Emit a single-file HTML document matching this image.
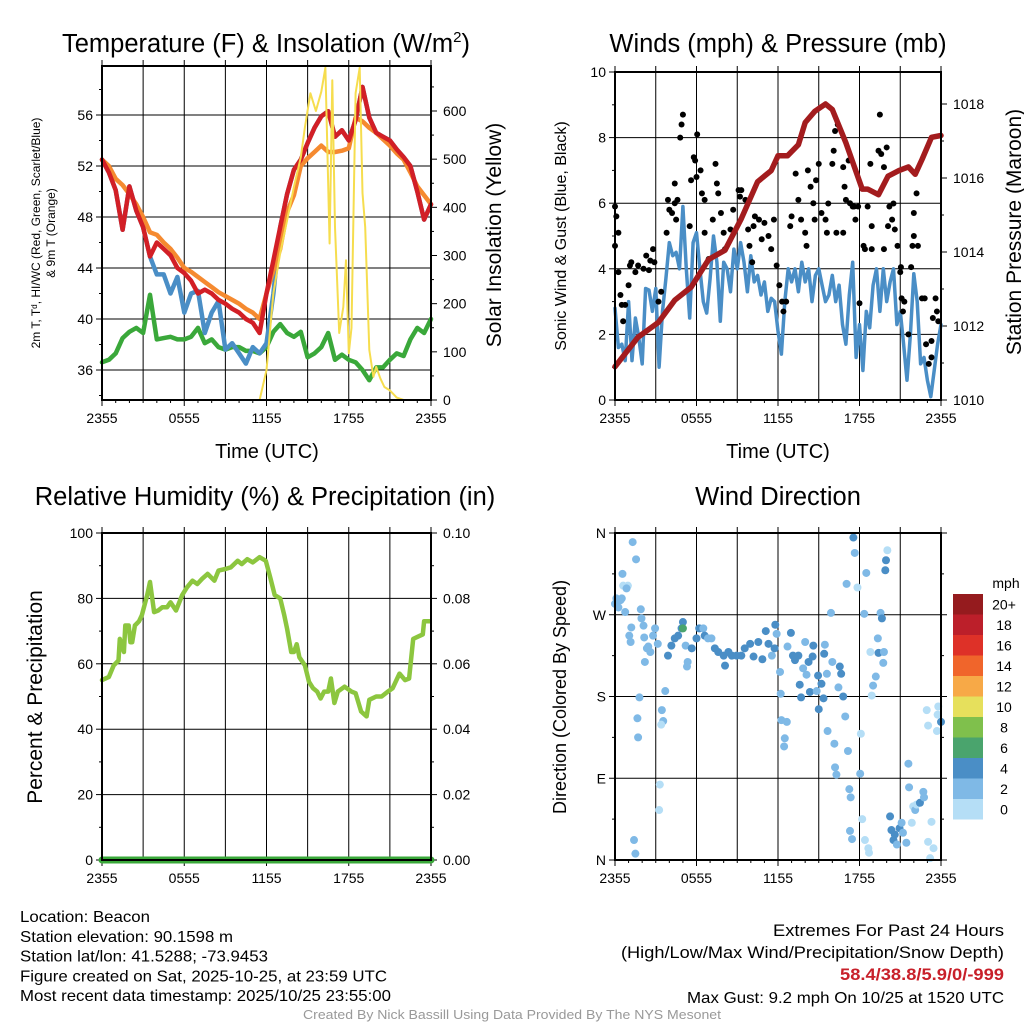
<!DOCTYPE html>
<html><head><meta charset="utf-8"><style>
body{margin:0;background:#fff;}
svg{font-family:"Liberation Sans",sans-serif;}
</style></head><body>
<svg id="s" width="1024" height="1024" viewBox="0 0 1024 1024" xmlns="http://www.w3.org/2000/svg"></svg>
<script>
// ---------- data ----------
const tTime=[0,0.5,1,1.5,2,2.5,3,3.5,4,4.5,5,5.5,6,6.5,7,7.5,8,8.5,9,9.5,10,10.5,11,11.5,12,12.5,13,13.5,14,14.5,15,15.5,16,16.5,17,17.5,18,18.5,19,19.5,20,20.5,21,21.5,22,22.5,23,23.5,24];
const tRed=[52.5,51.5,50.1,47,50.4,48.5,47.2,44.9,46,45.5,45,44,43.6,43,42,42.3,42,41.5,41.2,40.8,40.5,40,39.7,38.9,42,44.6,47.2,49.8,51.7,52.5,53.8,55,55.9,56.3,54.3,54.8,54,55.6,58.2,55.8,54.6,54.3,54,53.3,52.7,52,50,47.8,49];
const tOrange=[52.5,52,51,50.5,49.8,49,48,46.8,46.6,46,45.5,44.8,44,43.7,43.3,42.9,42.5,42.1,41.8,41.5,41.2,40.8,40.5,40,42,43.8,45.5,48.4,49.7,52,52.6,53.1,53.6,53.1,53.1,53.2,53.4,55.8,55.5,55,54.6,54.1,53.6,53,52.5,51.5,50.4,49.7,49];
const tBlue=[52.5,51.5,50.1,47,50.4,48.5,47.2,44.9,43.5,43.5,42,43.3,40.5,42,42.2,38.9,40.5,41.4,37.6,38.1,37.3,36.5,37.8,37.3,38.1,42,47.2,49.8,51.7,52.5,53.8,55,55.9,56.3,54.3,54.8,54,55.6,58.2,55.8,54.6,54.3,54,53.3,52.7,52,50,47.8,49];
const tGreen=[36.6,36.8,37.3,38.5,39,39.3,38.9,41.9,38.4,38.5,38.6,38.4,38.4,38.6,39.3,38.1,38.4,37.8,37.6,37.8,37.8,37.5,37.5,37.3,37.8,39,39.6,38.9,38.6,39,37,37.3,37.8,38.9,36.8,37.2,36.8,36.6,36,35.2,36.2,36.2,36.8,37.3,37.1,38.4,39.3,38.9,40];
const solTime=[0,11.5,12,12.5,13,13.5,14,14.5,14.8,15.2,15.6,16,16.3,16.6,16.8,17,17.3,17.6,17.8,18,18.2,18.5,18.8,19,19.2,19.5,19.8,20,20.3,20.6,21,21.5,22,24];
const solVal=[0,0,62,222,305,373,442,504,566,637,600,640,690,325,664,359,139,193,290,97,150,637,690,430,359,104,48,69,45,27,20,5,0,0];

const wTime=[0,0.25,0.5,0.75,1,1.25,1.5,1.75,2,2.25,2.5,2.75,3,3.25,3.5,3.75,4,4.25,4.5,4.75,5,5.25,5.5,5.75,6,6.25,6.5,6.75,7,7.25,7.5,7.75,8,8.25,8.5,8.75,9,9.25,9.5,9.75,10,10.25,10.5,10.75,11,11.25,11.5,11.75,12,12.25,12.5,12.75,13,13.25,13.5,13.75,14,14.25,14.5,14.75,15,15.25,15.5,15.75,16,16.25,16.5,16.75,17,17.25,17.5,17.75,18,18.25,18.5,18.75,19,19.25,19.5,19.75,20,20.25,20.5,20.75,21,21.25,21.5,21.75,22,22.25,22.5,22.75,23,23.25,23.5,23.75,24];
const wSpeed=[2.8,1.6,1.7,1.2,3.0,1.2,2.5,1.9,1.1,3.4,3.35,2.7,3.4,1.0,2.7,3.7,4.8,4.4,4.5,4.0,5.9,4.0,2.5,4.8,5.1,4.0,3.0,2.65,3.7,5.0,4.2,2.4,4.2,4.0,3.3,4.6,4.0,4.8,4.2,3.3,4.4,3.6,3.8,3.2,3.6,2.7,3.1,3.0,2.1,1.4,3.0,4.0,3.6,4.0,3.3,4.2,3.6,4.0,3.0,3.8,4.0,3.5,3.0,3.2,3.8,3.0,3.5,2.3,1.7,3.2,4.2,1.3,2.3,0.9,2.7,2.2,3.5,4.0,2.7,4.0,3.0,3.6,4.0,2.3,2.7,1.7,0.6,2.0,3.85,3.0,1.1,1.3,0.6,0.1,0.9,1.7,2.3];
const gTime=[0,0.1,0.25,0,0.25,0.4,0.5,0.75,0.6,1,1.1,1.2,1.5,1.7,2.1,2.3,2.6,2.8,2.9,2.5,3.2,3.4,3.8,3.9,4,4.2,4.4,4.4,4.5,4.6,4.8,4.9,5,5.5,5.6,5.8,5.9,6,6.05,6.3,6.4,6.6,6.6,6.9,7.2,7.4,7.5,7.6,7.8,8,8.1,8.5,8.7,9.1,9.2,9.3,9.6,9.8,9.9,10.1,10.2,10.3,10.6,10.8,11,11.3,11.5,11.7,11.9,12.1,12.3,12.4,12.6,12.9,13,13.3,13.5,13.7,14,14.1,14.2,14.4,14.6,14.7,14.8,15,15.2,15.5,15.6,15.7,16,16.1,16.2,16.4,16.3,16.8,16.8,16.9,17,17.2,17.3,17.5,17.6,17.7,17.9,18,18.3,18.4,18.6,18.8,18.9,18.9,19.4,19.5,19.6,19.8,19.8,20,20.1,20.2,20.4,20.5,20.6,20.8,21,21.05,21.1,21.2,21.3,21.6,21.8,21.9,22,22,22.2,22.3,22.6,22.8,22.9,23.3,23.4,23.6,23.7,23.8,23.3,23.1];
const gSpeed=[5.9,5.6,5.1,4.7,3.9,3.2,2.9,2.9,2.4,3.5,4.1,4.2,3.9,4.1,4.0,4.4,4.25,4.6,4.2,3.96,3.0,3.3,5.1,6.1,5.8,5.7,6.0,6.6,5.5,6.1,8.0,8.4,8.7,5.3,6.7,7.4,7.3,6.8,8.1,7.0,6.3,6.1,5.1,4.3,5.5,7.2,6.6,6.3,5.7,5.1,4.6,5.2,5.8,6.4,6.2,6.4,6.1,5.2,4.7,4.2,5.3,5.6,5.5,4.9,5.4,5.0,4.6,5.5,4.1,3.5,3.0,2.7,3.0,5.3,5.6,6.9,6.1,5.5,5.1,4.7,7.0,6.5,6.0,5.5,6.7,7.2,5.7,5.5,5.1,5.99,7.2,7.6,8.2,8.4,5.1,5.1,7.1,6.5,6.1,7.3,6.0,5.9,5.9,5.5,5.9,2.95,4.7,4.6,5.9,7.2,4.6,5.3,7.6,8.7,7.5,7.1,4.6,7.7,5.3,5.9,5.5,5.99,5.2,4.7,3.9,4.05,3.1,2.7,3.0,2.0,4.05,4.7,5.0,5.7,6.3,4.7,3.1,3.1,1.7,1.8,2.5,3.1,2.7,2.4,1.3,1.1];
const pTime=[0,1.7,3.2,4.4,5.6,6.9,8.1,9.3,10.5,11.5,12,12.7,13.5,14,14.7,15.5,16,17,18.2,18.6,19.4,20.1,20.9,21.6,22.1,22.6,23.3,24];
const pVal=[1010.9,1011.7,1012.1,1012.7,1013.05,1013.8,1014.05,1014.9,1015.9,1016.2,1016.6,1016.6,1016.9,1017.5,1017.8,1018.0,1017.85,1016.95,1015.7,1015.7,1015.55,1016.05,1016.2,1016.3,1016.1,1016.5,1017.1,1017.15];

const rhTime=[0,0.5,0.85,1.2,1.3,1.6,1.7,1.95,2.07,2.2,2.4,2.7,2.9,3.3,3.5,3.8,4.1,4.4,4.75,5,5.4,5.85,6.2,6.6,6.95,7.3,7.7,8.2,8.5,9,9.4,9.9,10.2,10.6,11,11.5,11.95,12.3,12.6,13,13.3,13.5,13.8,14,14.2,14.4,14.8,15.1,15.4,15.7,15.95,16.2,16.5,16.7,16.95,17.2,17.7,18.2,18.5,18.9,19.3,19.5,20,20.4,20.85,21.2,21.7,22.1,22.4,22.7,23.2,23.4,23.5,23.9];
const rhVal=[55,56,59.5,61,67.6,63.6,71.7,71.7,66.6,66.6,71.7,73,74.8,81,85,75.8,76.3,77.3,77.3,78.8,76.3,81,83.4,85.4,84.4,86,87.5,85.4,88.5,89,89.5,91.5,90.5,92,91,92.6,91.5,86,81,80,74.8,70.7,63.6,63.6,66,62,59.5,54.5,52.5,51.5,49.4,51.5,51.5,55.5,48,51.5,53,51.5,51,45.4,43.9,49,50,50,51.5,52.5,57,55,55.5,67.6,68.6,69,73,73];
const prTime=[0,24];
const prVal=[0,0];

const dTime=[0,0.1,0.4,0.25,0.5,0.55,0.6,0.95,0.85,0.75,1.3,1.55,1.2,1.05,1.15,1.9,1.95,2.1,2.15,2.35,2.45,2.6,2.2,2.8,2.95,3.15,3.7,3.45,3.55,3.4,1.8,1.65,1.7,3.3,3.25,1.4,1.5,3.9,4.15,4.4,4.65,4.9,5.0,5.0,5.2,5.35,5.3,5.65,6.0,6.2,6.5,6.6,6.85,7.1,7.35,7.6,8.0,8.1,8.35,8.6,8.95,9.3,9.55,9.95,10.2,10.55,10.85,11.1,11.3,11.55,11.75,11.8,11.9,12.15,12.2,12.25,12.65,12.5,12.45,12.7,12.95,13.1,13.25,13.5,13.6,13.7,13.85,14.0,14.1,14.35,14.25,14.6,14.55,14.85,14.95,15.0,15.2,15.35,15.4,15.45,15.6,15.65,15.9,16.0,16.15,16.2,16.3,16.45,16.55,16.65,16.8,16.95,17.15,17.25,17.35,17.3,17.45,17.55,17.65,17.05,17.85,18.05,18.1,18.2,18.35,18.4,18.5,18.65,18.7,18.8,18.9,19.0,19.2,19.35,19.4,19.55,19.65,19.8,19.75,19.9,19.95,20.05,20.25,20.35,20.5,20.75,20.6,20.95,21.1,21.2,21.45,21.6,21.65,21.85,21.95,22.1,22.2,22.45,22.7,22.75,23.05,23.3,23.45,23.2,22.95,23.05,23.7,23.8,23.75,24];
const dDir=[282,288,286,278,288,315,302,302,299,273,350,331,256,247,240,276,266,258,245,233,235,229,218,247,255,238,186,165,153,149,179,156,135,83,55,22,7,225,236,244,247,255,262,255,236,218,213,233,244,255,255,247,244,244,233,229,225,214,229,225,225,225,233,238,224,240,221,252,238,225,233,259,249,207,183,154,152,134,125,235,250,225,220,225,193,179,211,240,204,185,218,236,224,186,203,166,194,178,227,237,205,142,272,218,128,102,94,190,213,205,180,158,120,78,69,32,23,355,338,304,300,95,139,45,271,22,316,13,8,229,181,192,202,244,228,272,266,229,217,319,330,341,48,33,22,17,28,35,41,30,19,106,80,41,59,55,61,63,75,69,20,42,13,2,165,148,142,169,160,152];
const dSpd=[3,3,3,3,3,3,1,1,3,3,3,3,3,3,3,3,3,3,3,3,3,3,3,3,3,3,3,3,3,1,3,3,3,1,1,3,3,5,5,5,5,5,5,7,3,3,3,5,5,5,3,5,3,3,5,5,5,5,5,5,5,5,5,5,5,5,5,5,5,3,5,5,3,3,3,3,3,3,3,3,5,5,5,5,5,5,3,3,3,5,5,5,5,3,5,5,5,5,5,3,3,3,3,3,3,3,3,3,5,5,5,3,3,3,3,3,3,5,3,3,1,3,1,1,3,1,3,1,1,1,1,3,3,3,5,3,5,3,3,5,5,1,5,5,5,3,5,5,3,3,3,3,3,1,1,3,1,5,3,3,1,1,1,1,1,1,1,1,1,5,5,5];
const cbLabels=["20+","18","16","14","12","10","8","6","4","2","0"];
const cbColors=["#951b1e","#bc1f2a","#de3128","#f0652b","#f7a947","#e6e05c","#7fc04c","#4aa46d","#4a8ec6","#7fb9e6","#b5def6"];

// ---------- helpers ----------
const S=document.getElementById('s');const NS="http://www.w3.org/2000/svg";
function mk(t,a,p){const e=document.createElementNS(NS,t);for(const k in a)e.setAttribute(k,a[k]);(p||S).appendChild(e);return e;}
function txt(x,y,s,size,anchor,extra){const e=mk('text',Object.assign({x:x,y:y,'font-size':size,'text-anchor':anchor||'middle',fill:'#000'},extra||{}));e.textContent=s;return e;}
function lin(d0,d1,r0,r1){return v=>r0+(v-d0)/(d1-d0)*(r1-r0);}
function path(xs,ys,fx,fy,color,w,name){let d='';for(let i=0;i<xs.length;i++)d+=(i?'L':'M')+fx(xs[i]).toFixed(1)+' '+fy(ys[i]).toFixed(1);const p=mk('path',{d:d,fill:'none',stroke:color,'stroke-width':w,'stroke-linejoin':'round','stroke-linecap':'round'});

return p;}
function panel(x0,x1,y0,y1,fx,name){
  const g=mk('g',{});
  
  
  for(let h=3;h<24;h+=3)mk('line',{x1:fx(h),x2:fx(h),y1:y0,y2:y1,stroke:'#000','stroke-width':1},g);
  for(let h=0;h<=24;h+=3)mk('line',{x1:fx(h),x2:fx(h),y1:y0-6,y2:y0,stroke:'#000'},g);
  const xl=["2355","0555","1155","1755","2355"];
  for(let i=0;i<5;i++){txt(fx(i*6),y1+23,xl[i],14);mk('line',{x1:fx(i*6),x2:fx(i*6),y1:y1,y2:y1+6,stroke:'#000'},g);}
  for(let h=1;h<24;h++)if(h%6)mk('line',{x1:fx(h),x2:fx(h),y1:y1,y2:y1+3,stroke:'#000'},g);
  return g;}
function frame(x0,x1,y0,y1){const r=mk('rect',{x:x0,y:y0,width:x1-x0,height:y1-y0,fill:'none',stroke:'#000','stroke-width':2});

}
function vlabel(x,y,s,size,name){const e=mk('text',{transform:'translate('+x+','+y+') rotate(-90)','font-size':size,'text-anchor':'middle'});e.textContent=s;

return e;}

// ---------- panel 1 temperature ----------
{const x0=102,x1=431,y0=66,y1=400;
const fx=lin(0,24,x0,x1),fy=lin(36,56,370,115),fs=lin(0,600,400,111);
panel(x0,x1,y0,y1,fx,'temperature-panel');
for(let v=36;v<=56;v+=4){mk('line',{x1:x0,x2:x1,y1:fy(v),y2:fy(v),stroke:'#000'});txt(x0-9,fy(v)+5,String(v),14,'end');mk('line',{x1:x0-6,x2:x0,y1:fy(v),y2:fy(v),stroke:'#000'});}
for(let v=34;v<=58;v+=2)if(v%4)mk('line',{x1:x0-3,x2:x0,y1:fy(v),y2:fy(v),stroke:'#000'});
for(let v=0;v<=600;v+=100){txt(x1+12,fs(v)+5,String(v),14,'start');mk('line',{x1:x1,x2:x1+6,y1:fs(v),y2:fs(v),stroke:'#000'});}
for(let v=50;v<=650;v+=100)mk('line',{x1:x1,x2:x1+3,y1:fs(v),y2:fs(v),stroke:'#000'});
path(tTime,tGreen,fx,fy,'#3aa83a',4.5,'dewpoint-line');
path(tTime,tBlue,fx,fy,'#4a8ec6',4.5,'windchill-line');
path(tTime,tOrange,fx,fy,'#f58a30',4.5,'temp-9m-line');
path(tTime,tRed,fx,fy,'#d21f26',4.5,'temp-2m-line');
path(solTime,solVal,fx,fs,'#f6dd4e',2,'solar-insolation-line');
frame(x0,x1,y0,y1);
const t=txt(62,52,'Temperature (F) & Insolation (W/m',25.5,'start');const ts=mk('tspan',{'font-size':15,dy:-10});ts.textContent='2';t.appendChild(ts);const t2=mk('tspan',{dy:10});t2.textContent=')';t.appendChild(t2);

txt(267,458,'Time (UTC)',20);
vlabel(40,233,'2m T, T\u1d48, HI/WC (Red, Green, Scarlet/Blue)',12,'temperature-y-title');
vlabel(55,233,'& 9m T (Orange)',12,'temperature-y-title-2');
vlabel(501,235,'Solar Insolation (Yellow)',21,'solar-y-title');
}
// ---------- panel 2 winds ----------
{const x0=615,x1=941,y0=72,y1=400;
const fx=lin(0,24,x0,x1),fy=lin(0,10,400,72),fp=lin(1010,1018,400,104);
panel(x0,x1,y0,y1,fx,'winds-panel');
for(let v=0;v<=10;v+=2){mk('line',{x1:x0,x2:x1,y1:fy(v),y2:fy(v),stroke:'#000'});txt(x0-9,fy(v)+5,String(v),14,'end');mk('line',{x1:x0-6,x2:x0,y1:fy(v),y2:fy(v),stroke:'#000'});}
for(let v=1;v<10;v+=2)mk('line',{x1:x0-3,x2:x0,y1:fy(v),y2:fy(v),stroke:'#000'});
for(let v=1010;v<=1018;v+=2){txt(x1+12,fp(v)+5,String(v),14,'start');mk('line',{x1:x1,x2:x1+6,y1:fp(v),y2:fp(v),stroke:'#000'});}
for(let v=1011;v<=1018;v+=2)mk('line',{x1:x1,x2:x1+3,y1:fp(v),y2:fp(v),stroke:'#000'});
path(wTime,wSpeed,fx,fy,'#4a8ec6',3.5,'sonic-wind-line');
for(let i=0;i<gTime.length;i++){const c=mk('circle',{cx:fx(gTime[i]),cy:fy(gSpeed[i]),r:3,fill:'#000'});

}
path(pTime,pVal,fx,fp,'#a31c1e',5.5,'pressure-line');
frame(x0,x1,y0,y1);
txt(778,52,'Winds (mph) & Pressure (mb)',25.5);
txt(778,458,'Time (UTC)',20);
vlabel(566,236,'Sonic Wind & Gust (Blue, Black)',16,'wind-y-title');
vlabel(1021,232,'Station Pressure (Maroon)',21,'pressure-y-title');
}
// ---------- panel 3 RH ----------
{const x0=102,x1=431,y0=533,y1=860;
const fx=lin(0,24,x0,x1),fy=lin(0,100,860,533),fp=lin(0,0.1,860,533);
panel(x0,x1,y0,y1,fx,'humidity-panel');
for(let v=0;v<=100;v+=20){mk('line',{x1:x0,x2:x1,y1:fy(v),y2:fy(v),stroke:'#000'});txt(x0-9,fy(v)+5,String(v),14,'end');mk('line',{x1:x0-6,x2:x0,y1:fy(v),y2:fy(v),stroke:'#000'});txt(x1+12,fp(v/1000)+5,(v/1000).toFixed(2),14,'start');mk('line',{x1:x1,x2:x1+6,y1:fy(v),y2:fy(v),stroke:'#000'});}
for(let v=10;v<100;v+=20){mk('line',{x1:x0-3,x2:x0,y1:fy(v),y2:fy(v),stroke:'#000'});mk('line',{x1:x1,x2:x1+3,y1:fy(v),y2:fy(v),stroke:'#000'});}
path(rhTime,rhVal,fx,fy,'#8cc63f',4.5,'relative-humidity-line');
path(prTime,prVal,fx,fp,'#3aa83a',7,'precipitation-line');
frame(x0,x1,y0,y1);
txt(265,505,'Relative Humidity (%) & Precipitation (in)',25.5);
vlabel(42,697,'Percent & Precipitation',21,'rh-y-title');
}
// ---------- panel 4 wind direction ----------
{const x0=615,x1=941,y0=533,y1=860;
const fx=lin(0,24,x0,x1),fy=lin(0,360,860,533);
panel(x0,x1,y0,y1,fx,'wind-direction-panel');
const dl=["N","E","S","W","N"];
for(let i=0;i<5;i++){const v=i*90;mk('line',{x1:x0,x2:x1,y1:fy(v),y2:fy(v),stroke:'#000'});txt(x0-9,fy(v)+5,dl[i],14,'end');mk('line',{x1:x0-6,x2:x0,y1:fy(v),y2:fy(v),stroke:'#000'});mk('line',{x1:x1,x2:x1+6,y1:fy(v),y2:fy(v),stroke:'#000'});}
for(let v=45;v<360;v+=90){mk('line',{x1:x0-3,x2:x0,y1:fy(v),y2:fy(v),stroke:'#000'});mk('line',{x1:x1,x2:x1+3,y1:fy(v),y2:fy(v),stroke:'#000'});}
for(let i=0;i<dTime.length;i++){const k=Math.min(10,Math.floor(dSpd[i]/2));const c=mk('circle',{cx:fx(dTime[i]),cy:fy(dDir[i]),r:4,fill:cbColors[10-k]});

}
frame(x0,x1,y0,y1);
txt(778,505,'Wind Direction',25.5);
vlabel(566,697,'Direction (Colored By Speed)',18,'direction-y-title');
txt(1006,588,'mph',14);
const bh=20.5;
for(let i=0;i<cbColors.length;i++){const r=mk('rect',{x:953,y:594+i*bh,width:30,height:bh,fill:cbColors[i]});


txt(1004,594+i*bh+bh/2+5,cbLabels[i],14);}
}
// ---------- footer ----------
const foot=["Location: Beacon","Station elevation: 90.1598 m","Station lat/lon: 41.5288; -73.9453","Figure created on Sat, 2025-10-25, at 23:59 UTC","Most recent data timestamp: 2025/10/25 23:55:00"];
const footW=[130,213,248,367,371];
foot.forEach((s,i)=>txt(20,922+i*19.8,s,16,'start',{textLength:footW[i],lengthAdjust:'spacingAndGlyphs'}));
txt(1004,936,'Extremes For Past 24 Hours',17,'end',{textLength:231,lengthAdjust:'spacingAndGlyphs'});
txt(1004,958,'(High/Low/Max Wind/Precipitation/Snow Depth)',17,'end',{textLength:383,lengthAdjust:'spacingAndGlyphs'});
txt(1004,980,'58.4/38.8/5.9/0/-999',17,'end',{fill:'#c8202a','font-weight':'bold',textLength:164,lengthAdjust:'spacingAndGlyphs'});
txt(1004,1003,'Max Gust: 9.2 mph On 10/25 at 1520 UTC',16,'end',{textLength:317,lengthAdjust:'spacingAndGlyphs'});
txt(512,1019,'Created By Nick Bassill Using Data Provided By The NYS Mesonet',13,'middle',{fill:'#999',textLength:418,lengthAdjust:'spacingAndGlyphs'});
</script>
</body></html>
